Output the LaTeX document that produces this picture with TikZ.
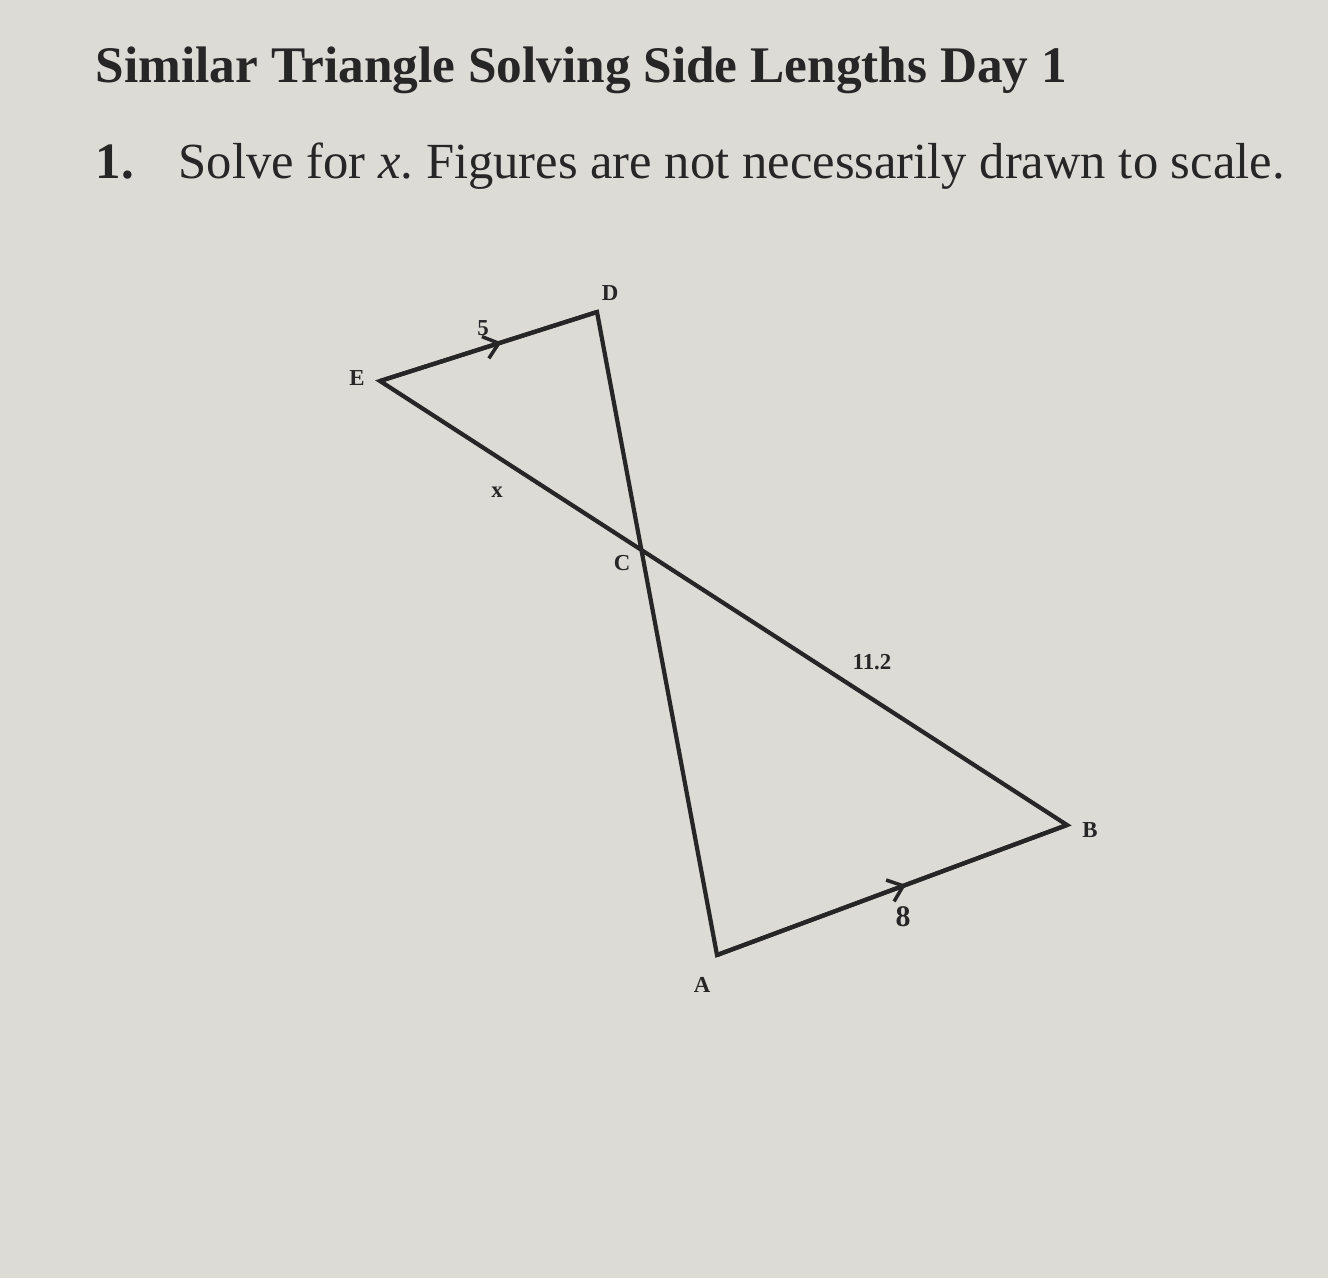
\documentclass[tikz,border=0pt]{standalone}
\usepackage{fontspec}
\setmainfont{Liberation Serif}
\usetikzlibrary{arrows.meta,decorations.markings}
\definecolor{paper}{RGB}{221,219,214}
\definecolor{ink}{RGB}{38,38,38}
\newcommand{\edgewidth}{1.2pt}
\frenchspacing

\begin{document}
\begin{tikzpicture}[x=1cm,y=1cm,
    vlabel/.style={font=\fontsize{6.5}{8}\selectfont\bfseries, text=ink, inner sep=0pt},
    parallel/.style={postaction={decorate}, decoration={markings,
        mark=at position #1 with {\arrow{Straight Barb[length=4pt,width=6.5pt,line width=1pt]}}}}]
      % paper
      \useasboundingbox (0,0) rectangle (13.28,-12.78);
      \fill[paper] (0,0) rectangle (13.28,-12.78);

      % heading
      \node (title) at (0.95,-0.82) [anchor=base west, inner sep=0, text=ink,
        font=\fontsize{14.6}{17}\selectfont\bfseries] {Similar Triangle Solving Side Lengths Day 1};
      \node (num) at (0.95,-1.78) [anchor=base west, inner sep=0, text=ink,
        font=\fontsize{14.5}{17}\selectfont\bfseries] {1.};
      \node (task) at (1.78,-1.78) [anchor=base west, inner sep=0, text=ink,
        font=\fontsize{14.4}{17}\selectfont] {Solve for \textit{x}. Figures are not necessarily drawn to scale.};

      % vertices
      \coordinate (E) at (3.80,-3.81);
      \coordinate (D) at (5.97,-3.12);
      \coordinate (C) at (6.40,-5.49);
      \coordinate (B) at (10.67,-8.25);
      \coordinate (A) at (7.17,-9.55);

      \draw[ink, line width=\edgewidth, line join=miter] (B) -- (E) -- (D) -- (A) -- cycle;
      \draw[ink, line width=\edgewidth, parallel=0.56] (E) -- (D);
      \draw[ink, line width=\edgewidth, parallel=0.54] (A) -- (B);

      % labels
      \node (lD) at (6.10,-2.93) [vlabel] {D};
      \node (lE) at (3.57,-3.78) [vlabel] {E};
      \node (lC) at (6.22,-5.63) [vlabel] {C};
      \node (lB) at (10.90,-8.30) [vlabel] {B};
      \node (lA) at (7.02,-9.85) [vlabel] {A};
      \node (s5) at (4.83,-3.28) [vlabel] {5};
      \node (sx) at (4.97,-4.92) [vlabel] {x};
      \node (s112) at (8.72,-6.62) [vlabel] {11.2};
      \node (s8) at (9.03,-9.17) [vlabel, font=\fontsize{8.5}{10}\selectfont\bfseries] {8};
\end{tikzpicture}
\end{document}
